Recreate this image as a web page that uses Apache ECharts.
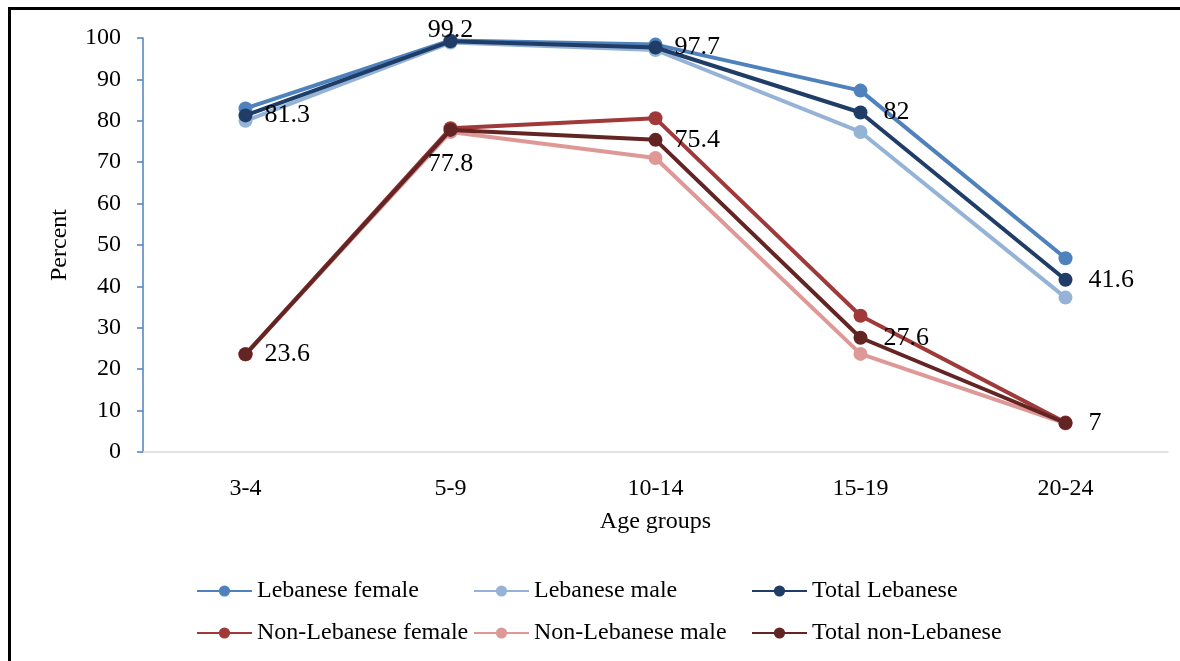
<!DOCTYPE html>
<html>
<head>
<meta charset="utf-8">
<script src="https://cdn.jsdelivr.net/npm/echarts@6/dist/echarts.min.js"></script>
<style>
  html, body { margin: 0; padding: 0; background: #fff; overflow: hidden; width: 1180px; height: 661px; }
  #frame { position: absolute; left: 8px; top: 7px; right: 0; bottom: 0; border-left: 3px solid #000; border-top: 3px solid #000; }
  #chart { position: absolute; left: 0; top: 0; width: 1180px; height: 661px; }
</style>
</head>
<body>
<div id="frame"></div>
<div id="chart"></div>
<script>
const categories = ['3-4', '5-9', '10-14', '15-19', '20-24'];
const lebaneseFemale = [83.0, 99.4, 98.4, 87.3, 46.8];
const lebaneseMale = [80.0, 98.9, 97.1, 77.3, 37.3];
const totalLebanese = [81.3, 99.2, 97.7, 82, 41.6];
const nonLebaneseFemale = [23.6, 78.2, 80.6, 32.9, 7.1];
const nonLebaneseMale = [23.6, 77.3, 71.0, 23.7, 6.9];
const totalNonLebanese = [23.6, 77.8, 75.4, 27.6, 7];
const yTicks = { min: 0, max: 100, interval: 10 };

const seriesNames = ['Lebanese female', 'Lebanese male', 'Total Lebanese',
  'Non-Lebanese female', 'Non-Lebanese male', 'Total non-Lebanese'];
const seriesValues = [lebaneseFemale, lebaneseMale, totalLebanese,
  nonLebaneseFemale, nonLebaneseMale, totalNonLebanese];
const colors = ['#4F81BD', '#95B3D7', '#1F3D66', '#A0393A', '#DE9896', '#632523'];
// label placement for the labelled (total) series
const labelPos = {
  2: ['right', 'top', 'right', 'right', 'right'],
  5: ['right', 'bottom', 'right', 'right', 'right']
};
const labelDist = {
  2: [12, -9, 12, 16, 16],
  5: [12, 14, 12, 16, 16]
};

const font = 'Liberation Serif';

const series = seriesValues.map((vals, i) => ({
  name: seriesNames[i],
  type: 'line',
  data: vals.map((v, j) => {
    const item = { value: v };
    if (labelPos[i]) {
      item.label = { show: true, position: labelPos[i][j], distance: labelDist[i][j] };
    }
    return item;
  }),
  symbol: 'circle',
  symbolSize: 14,
  lineStyle: { width: 4, color: colors[i] },
  itemStyle: { color: colors[i] },
  label: {
    show: false,
    color: '#000',
    fontFamily: font,
    fontSize: 26,
    formatter: p => String(p.value)
  },
  emphasis: { disabled: true },
  animation: false,
  z: 2 + i
}));

const legendLefts = [196, 473, 751];
const legendTops = [579, 621];
const legends = seriesNames.map((n, i) => ({
  data: [n],
  left: legendLefts[i % 3],
  top: legendTops[Math.floor(i / 3)],
  itemWidth: 55,
  itemHeight: 14,
  padding: 0,
  textStyle: { fontFamily: font, fontSize: 24, color: '#000' },
  selectedMode: false
}));

const chart = echarts.init(document.getElementById('chart'), null, { renderer: 'canvas' });
chart.setOption({
  backgroundColor: 'transparent',
  animation: false,
  grid: { left: 143, right: 12, top: 38, bottom: 209, containLabel: false },
  legend: legends,
  xAxis: {
    type: 'category',
    data: categories,
    name: 'Age groups',
    nameLocation: 'middle',
    nameGap: 58,
    nameTextStyle: { fontFamily: font, fontSize: 24, color: '#000' },
    axisLine: { lineStyle: { color: '#D9D9D9', width: 1.5 } },
    axisTick: { show: false },
    axisLabel: { fontFamily: font, fontSize: 24, color: '#000', margin: 25 },
    splitLine: { show: false }
  },
  yAxis: {
    type: 'value',
    min: yTicks.min,
    max: yTicks.max,
    interval: yTicks.interval,
    name: 'Percent',
    nameLocation: 'middle',
    nameGap: 71,
    nameTextStyle: { fontFamily: font, fontSize: 24, color: '#000' },
    axisLine: { show: true, lineStyle: { color: '#4F81BD', width: 1.5 } },
    axisTick: { show: true, inside: false, length: 6, lineStyle: { color: '#4F81BD', width: 1.5 } },
    axisLabel: { fontFamily: font, fontSize: 24, color: '#000', margin: 22 },
    splitLine: { show: false }
  },
  series: series
});
</script>
</body>
</html>
